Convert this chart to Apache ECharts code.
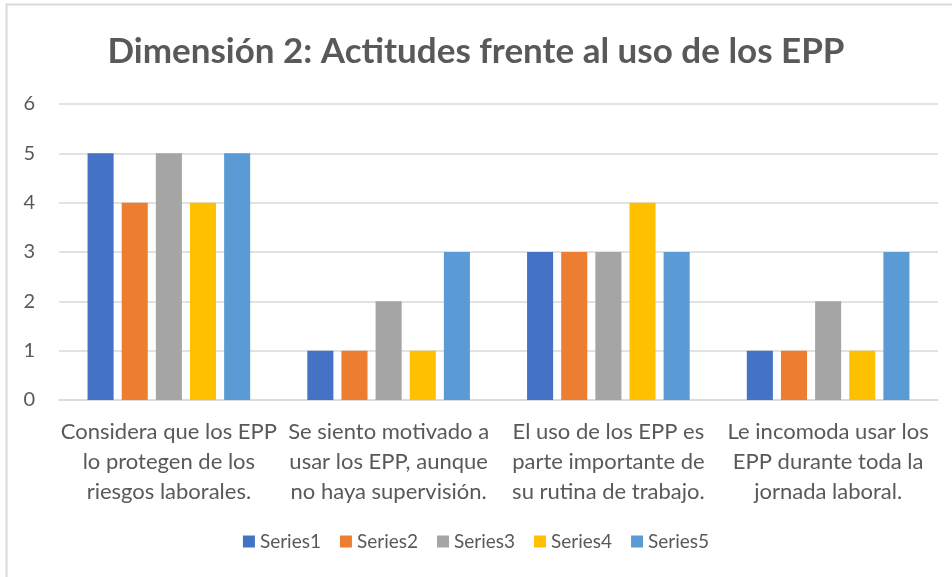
<!DOCTYPE html>
<html>
<head>
<meta charset="utf-8">
<script src="https://cdn.jsdelivr.net/npm/echarts@6/dist/echarts.min.js"></script>
<style>
  html, body { margin: 0; padding: 0; background: #fff; }
  #chartmain { width: 952px; height: 577px; }
</style>
</head>
<body>
<div id="chartmain"></div>
<script>
var categories = [
    'Considera que los EPP\nlo protegen de los\nriesgos laborales.',
    'Se siento motivado a\nusar los EPP, aunque\nno haya supervisión.',
    'El uso de los EPP es\nparte importante de\nsu rutina de trabajo.',
    'Le incomoda usar los\nEPP durante toda la\njornada laboral.'
];
var seriesNames = ['Series1', 'Series2', 'Series3', 'Series4', 'Series5'];
var series1 = [5, 1, 3, 1];
var series2 = [4, 1, 3, 1];
var series3 = [5, 2, 3, 2];
var series4 = [4, 1, 4, 1];
var series5 = [5, 3, 3, 3];
var yTicks = [0, 1, 2, 3, 4, 5, 6];

var colors = ['#4472C4', '#ED7D31', '#A5A5A5', '#FFC000', '#5B9BD5'];
var font = 'Lato, "Open Sans", sans-serif';
var allData = [series1, series2, series3, series4, series5];

var seriesList = [];
for (var i = 0; i < seriesNames.length; i++) {
    seriesList.push({
        name: seriesNames[i],
        type: 'bar',
        barGap: '31%',
        barCategoryGap: '26%',
        data: allData[i]
    });
}

var option = {
    color: colors,
    animation: false,
    title: {
        text: 'Dimensión 2: Actitudes frente al uso de los EPP',
        left: 'center',
        top: 29,
        textStyle: {
            fontFamily: font,
            fontSize: 35,
            fontWeight: 'bold',
            color: '#595959'
        }
    },
    graphic: [{
        type: 'rect',
        shape: { x: 6.5, y: 4.5, width: 1000, height: 700 },
        style: { fill: 'none', stroke: '#d9d9d9', lineWidth: 2 },
        silent: true
    }],
    legend: {
        data: seriesNames,
        bottom: 21,
        left: 'center',
        itemWidth: 12,
        itemHeight: 12,
        itemGap: 19,
        icon: 'rect',
        textStyle: { fontFamily: font, fontSize: 19, color: '#595959' }
    },
    grid: {
        left: 59,
        right: 14,
        top: 104,
        bottom: 177,
        containLabel: false
    },
    xAxis: {
        type: 'category',
        data: categories,
        axisLine: { lineStyle: { color: '#d9d9d9', width: 1.5 } },
        axisTick: { show: false },
        axisLabel: {
            interval: 0,
            margin: 17,
            fontFamily: font,
            fontSize: 22,
            lineHeight: 30,
            color: '#595959'
        }
    },
    yAxis: {
        type: 'value',
        min: yTicks[0],
        max: yTicks[yTicks.length - 1],
        interval: 1,
        axisLine: { show: false },
        axisTick: { show: false },
        splitLine: { lineStyle: { color: '#d9d9d9', width: 1.5 } },
        axisLabel: {
            margin: 24,
            fontFamily: font,
            fontSize: 20,
            color: '#595959'
        }
    },
    series: seriesList
};

var myChart = echarts.init(document.getElementById('chartmain'));
myChart.setOption(option);
</script>
</body>
</html>
